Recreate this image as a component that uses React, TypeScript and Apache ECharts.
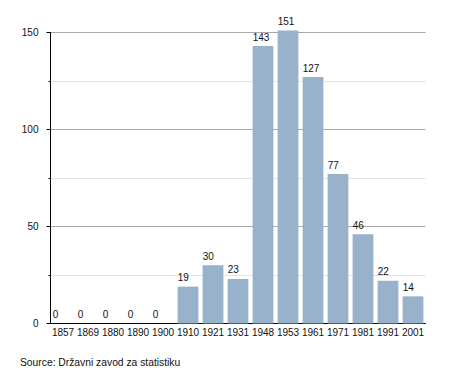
import React, { useEffect, useRef } from "react";
import * as echarts from "echarts";

const categories = ["1857", "1869", "1880", "1890", "1900", "1910", "1921", "1931", "1948", "1953", "1961", "1971", "1981", "1991", "2001"];
const values = [0, 0, 0, 0, 0, 19, 30, 23, 143, 151, 127, 77, 46, 22, 14];
const sourceText = "Source: Državni zavod za statistiku";

export default function App() {
  const ref = useRef<HTMLDivElement>(null);
  useEffect(() => {
    document.body.style.margin = "0";
    if (!ref.current) return;
    const chart = echarts.init(ref.current, undefined, { renderer: "svg" });
    const font = "'Liberation Sans', Arial, sans-serif";
    chart.setOption({
      animation: false,
      textStyle: { fontFamily: font },
      grid: { left: 50.5, right: 29.5, top: 32.5, bottom: 49.5, containLabel: false },
      xAxis: {
        type: "category",
        data: categories,
        axisLine: { lineStyle: { color: "#000", width: 1 } },
        axisTick: { show: false },
        axisLabel: { color: "#111", fontSize: 10, margin: 4, interval: 0, fontFamily: font },
        splitLine: { show: false },
      },
      yAxis: {
        type: "value",
        min: 0,
        max: 150,
        interval: 50,
        axisLine: { show: true, lineStyle: { color: "#000", width: 1 } },
        axisTick: { show: true, length: 4, lineStyle: { color: "#000" } },
        minorTick: { show: true, splitNumber: 2, length: 2, lineStyle: { color: "#000" } },
        axisLabel: { color: "#111", fontSize: 10, margin: 12, fontFamily: font },
        splitLine: { show: true, lineStyle: { color: "#aaaaaa", width: 1 } },
        minorSplitLine: { show: true, lineStyle: { color: "#e3e3e3", width: 1 } },
      },
      series: [
        {
          type: "bar",
          data: values,
          clip: false,
          barCategoryGap: "17%",
          itemStyle: { color: "#98b2cb" },
          label: {
            show: true,
            position: [0, -4],
            align: "left",
            verticalAlign: "bottom",
            color: "#111",
            fontSize: 10,
            fontFamily: font,
          },
        },
      ],
      graphic: [
        {
          type: "text",
          left: 20,
          top: 357,
          style: { text: sourceText, fill: "#111", font: `10.3px ${font}` },
        },
      ],
    });
    return () => chart.dispose();
  }, []);
  return <div ref={ref} style={{ width: 455, height: 373 }} />;
}
